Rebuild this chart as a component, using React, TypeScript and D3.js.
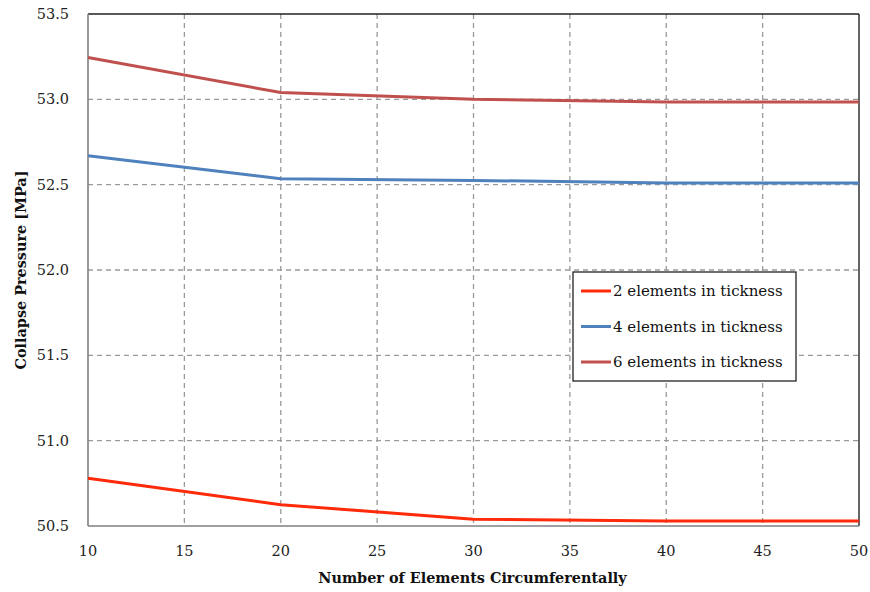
import React from "react";
import * as d3 from "d3";

const xValues = [10, 20, 30, 40, 50];
const series2 = [50.78, 50.625, 50.54, 50.53, 50.53];
const series4 = [52.67, 52.535, 52.525, 52.51, 52.51];
const series6 = [53.245, 53.04, 53.0, 52.985, 52.985];
const seriesNames = ["2 elements in tickness", "4 elements in tickness", "6 elements in tickness"];
const seriesColors = ["#ff2a0a", "#4f81bd", "#c0504d"];
const xTicks = [10, 15, 20, 25, 30, 35, 40, 45, 50];
const yTicks = [50.5, 51.0, 51.5, 52.0, 52.5, 53.0, 53.5];

export default function App() {
  const W = 870, H = 592;
  const left = 88, right = 859, top = 14, bottom = 526;
  const x = d3.scaleLinear().domain([10, 50]).range([left, right]);
  const y = d3.scaleLinear().domain([50.5, 53.5]).range([bottom, top]);
  const font = "'DejaVu Serif', 'Liberation Serif', serif";
  const all = [series2, series4, series6];
  const line = d3
    .line<number>()
    .x((_, i) => x(xValues[i]))
    .y((d) => y(d))
    .curve(d3.curveLinear);

  return (
    <svg width={W} height={H} style={{ position: "absolute", left: 0, top: 0 }}>
      <rect x={0} y={0} width={W} height={H} fill="#fff" />
      {xTicks.slice(1, -1).map((t) => (
        <line key={"gx" + t} x1={x(t)} x2={x(t)} y1={top} y2={bottom} stroke="#9a9a9a" strokeWidth={1.3} strokeDasharray="5,4" />
      ))}
      {yTicks.slice(1, -1).map((t) => (
        <line key={"gy" + t} x1={left} x2={right} y1={y(t)} y2={y(t)} stroke="#9a9a9a" strokeWidth={1.3} strokeDasharray="5,4" />
      ))}
      <line x1={left} x2={right} y1={top} y2={top} stroke="#222" strokeWidth={1.3} />
      <line x1={right} x2={right} y1={top} y2={bottom} stroke="#111" strokeWidth={1.3} />
      <line x1={left} x2={left} y1={top} y2={bottom} stroke="#808080" strokeWidth={1.6} />
      <line x1={left} x2={right} y1={bottom} y2={bottom} stroke="#808080" strokeWidth={1.6} />
      {all.map((s, i) => (
        <path key={i} d={line(s) || ""} fill="none" stroke={seriesColors[i]} strokeWidth={3} strokeLinejoin="round" />
      ))}
      {yTicks.map((t) => (
        <text key={"ty" + t} x={69} y={y(t) + 5} textAnchor="end" fontFamily={font} fontSize={14.5} fill="#222">
          {t.toFixed(1)}
        </text>
      ))}
      {xTicks.map((t) => (
        <text key={"tx" + t} x={x(t)} y={556} textAnchor="middle" fontFamily={font} fontSize={14.5} fill="#222">
          {t}
        </text>
      ))}
      <text x={(left + right) / 2 - 1} y={583} textAnchor="middle" fontFamily={font} fontSize={14.4} fontWeight="bold" fill="#111">
        Number of Elements Circumferentally
      </text>
      <text transform={`translate(26, ${(top + bottom) / 2}) rotate(-90)`} textAnchor="middle" fontFamily={font} fontSize={14.4} fontWeight="bold" fill="#111">
        Collapse Pressure [MPa]
      </text>
      <rect x={573} y={272} width={223} height={109} fill="#fff" stroke="#222" strokeWidth={1.3} />
      {seriesNames.map((n, i) => (
        <g key={n}>
          <line x1={581} x2={611} y1={291 + i * 35.5} y2={291 + i * 35.5} stroke={seriesColors[i]} strokeWidth={3} />
          <text x={613} y={291 + i * 35.5 + 5} fontFamily={font} fontSize={15} fill="#111">
            {n}
          </text>
        </g>
      ))}
    </svg>
  );
}
